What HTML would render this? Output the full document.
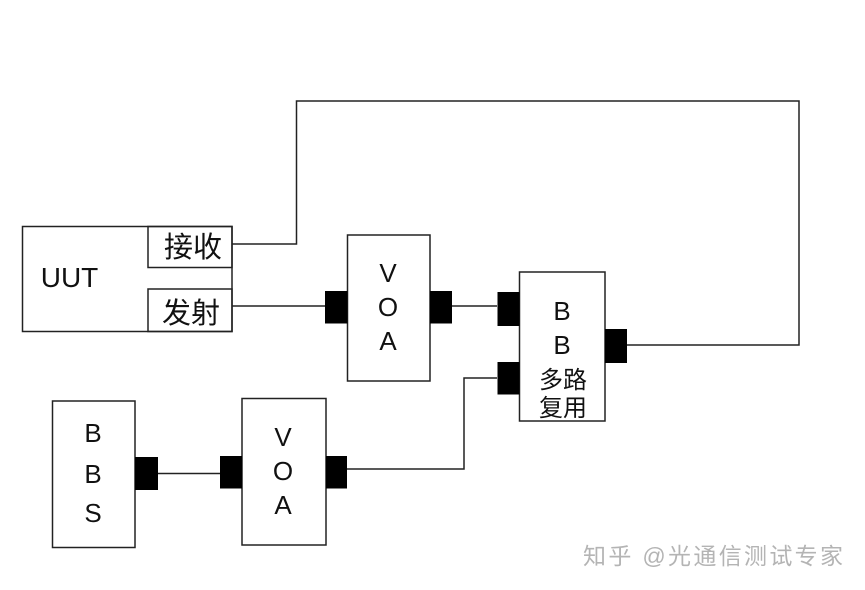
<!DOCTYPE html>
<html>
<head>
<meta charset="utf-8">
<style>
html,body{margin:0;padding:0;background:#fff;width:865px;height:590px;overflow:hidden}
svg{display:block;filter:blur(.35px)}
text{font-family:"Liberation Sans","Noto Sans CJK SC",sans-serif;fill:#111;text-anchor:middle}
</style>
</head>
<body>
<svg width="865" height="590" viewBox="0 0 865 590" xmlns="http://www.w3.org/2000/svg">
<g fill="none" stroke="#222" stroke-width="1.5">
<rect x="22.500" y="226.500" width="209.500" height="105"/>
<rect x="148" y="226.500" width="84" height="41"/>
<rect x="148" y="289" width="84" height="42.500"/>
<rect x="347.500" y="235" width="82.500" height="146"/>
<rect x="519.500" y="272" width="85.500" height="149"/>
<rect x="52.500" y="401" width="82.500" height="146.500"/>
<rect x="242" y="398.500" width="84" height="146.500"/>
<path d="M232 244H296.500V101H799V345H627"/>
<path d="M232 306H325"/>
<path d="M452 306H497"/>
<path d="M497 378H464V469H347"/>
<path d="M158 473.500H220"/>
</g>
<g fill="#000">
<rect x="325" y="291" width="22.500" height="32.500"/>
<rect x="430" y="291" width="22" height="32.500"/>
<rect x="497.500" y="292" width="22" height="34"/>
<rect x="497.500" y="362" width="22" height="32.500"/>
<rect x="605" y="329" width="22" height="34"/>
<rect x="135" y="457" width="23" height="33"/>
<rect x="220" y="456" width="22" height="32.500"/>
<rect x="326" y="456" width="21" height="32.500"/>
</g>
<text x="69.500" y="287" font-size="28">UUT</text>
<text x="193" y="257" font-size="29">接收</text>
<text x="191" y="323" font-size="29">发射</text>
<g font-size="26">
<text x="388" y="282">V</text>
<text x="388" y="316">O</text>
<text x="388" y="350">A</text>
<text x="562" y="320">B</text>
<text x="562" y="354">B</text>
<text x="93" y="442">B</text>
<text x="93" y="483">B</text>
<text x="93" y="522">S</text>
<text x="283" y="446">V</text>
<text x="283" y="480">O</text>
<text x="283" y="514">A</text>
</g>
<text x="563" y="388" font-size="24">多路</text>
<text x="563" y="416" font-size="24">复用</text>
<text x="713" y="564" font-size="23" style="fill:#b4b4b4" textLength="260" lengthAdjust="spacing">知乎 @光通信测试专家</text>
</svg>
</body>
</html>
